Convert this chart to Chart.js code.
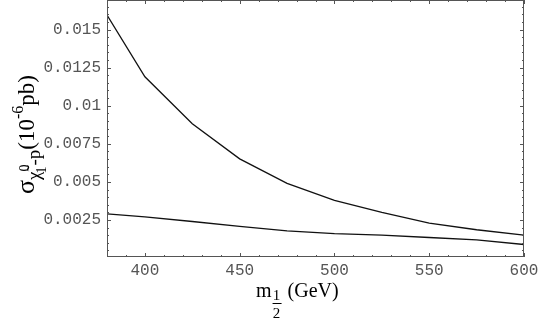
<!DOCTYPE html>
<html>
<head>
<meta charset="utf-8">
<script src="https://cdn.jsdelivr.net/npm/chart.js@4"></script>
<style>
  html, body { margin: 0; padding: 0; background: #fff; }
  #wrap { width: 545px; height: 325px; }
</style>
</head>
<body>
<div id="wrap"><canvas id="xsecChart"></canvas></div>
<script>
// m_1/2 values (GeV)
const mHalf = [380, 400, 425, 450, 475, 500, 525, 550, 575, 600];
// cross sections (10^-6 pb)
const upperCurve = [0.01595, 0.0119, 0.00882, 0.00651, 0.0049, 0.00378, 0.0030, 0.0023, 0.00186, 0.00151];
const lowerCurve = [0.0029, 0.0027, 0.0024, 0.00208, 0.00179, 0.0016, 0.00151, 0.00135, 0.0012, 0.00089];
const xTickValues = [400, 450, 500, 550, 600];
const yTickValues = [0.0025, 0.005, 0.0075, 0.01, 0.0125, 0.015];
const yTickLabels = ['0.0025', '0.005', '0.0075', '0.01', '0.0125', '0.015'];

const frameColor = '#555';
const tickFont = { family: '"Liberation Mono", monospace', size: 16 };

// frame ticks pointing inwards on all four sides
const frameTicks = {
    id: 'frameTicks',
    afterDraw(chart) {
        const { ctx, chartArea: a, scales: { x, y } } = chart;
        ctx.save();
        ctx.strokeStyle = frameColor;
        ctx.lineWidth = 1;
        ctx.beginPath();
        for (let v = 380; v <= 600; v += 10) {
            const px = Math.round(x.getPixelForValue(v)) + 0.5;
            const len = v % 50 === 0 ? 4 : 2;
            ctx.moveTo(px, a.bottom); ctx.lineTo(px, a.bottom - len);
            ctx.moveTo(px, a.top); ctx.lineTo(px, a.top + len);
        }
        for (let i = 0; i <= 33; i++) {
            const v = i * 0.0005;
            const py = Math.round(y.getPixelForValue(v)) + 0.5;
            if (py < a.top || py > a.bottom) continue;
            const len = i % 5 === 0 ? 4 : 2;
            ctx.moveTo(a.left, py); ctx.lineTo(a.left + len, py);
            ctx.moveTo(a.right, py); ctx.lineTo(a.right - len, py);
        }
        ctx.stroke();
        ctx.strokeRect(a.left + 0.5, a.top + 0.5, a.right - a.left - 1, a.bottom - a.top - 1);
        ctx.restore();
    }
};

// axis titles with sub/superscripts
const axisTitles = {
    id: 'axisTitles',
    afterDraw(chart) {
        const { ctx } = chart;
        const serif = s => `${s}px "Liberation Serif", "DejaVu Serif", serif`;
        ctx.save();
        ctx.fillStyle = '#000';
        ctx.textBaseline = 'alphabetic';
        ctx.textAlign = 'left';

        // x title: m_{1/2} (GeV)
        let xp = 256, base = 297;
        ctx.font = serif(20);
        ctx.fillText('m', xp, base);
        xp += ctx.measureText('m').width + 1;
        ctx.font = serif(15);
        ctx.textAlign = 'center';
        ctx.fillText('1', xp + 4, base + 3);
        ctx.fillText('2', xp + 4, base + 21);
        ctx.fillRect(xp, base + 6, 9, 1);
        ctx.textAlign = 'left';
        ctx.font = serif(20);
        ctx.fillText('(GeV)', xp + 15, base);

        // y title: sigma_{chi~0_1 - p}(10^-6 pb), rotated
        ctx.translate(34, 194);
        ctx.rotate(-Math.PI / 2);
        let p = 0;
        ctx.font = serif(26);
        ctx.fillText('σ', p, 0);
        p += ctx.measureText('σ').width;
        ctx.font = serif(19);
        ctx.fillText('χ̃', p, 6);
        const chiW = ctx.measureText('χ').width;
        ctx.font = serif(14);
        ctx.fillText('0', p + chiW, -5);
        ctx.fillText('1', p + chiW - 2, 12);
        p += chiW + 6;
        ctx.font = serif(19);
        ctx.fillText('-p', p, 6);
        p += ctx.measureText('-p').width;
        ctx.font = serif(23);
        ctx.fillText('(10', p, 0);
        p += ctx.measureText('(10').width;
        ctx.font = serif(16);
        ctx.fillText('-6', p, -11);
        p += ctx.measureText('-6').width;
        ctx.font = serif(23);
        ctx.fillText('pb)', p, 0);
        ctx.restore();
    }
};

const ctx = document.getElementById('xsecChart').getContext('2d');
const xsecChart = new Chart(ctx, {
    type: 'line',
    data: {
        datasets: [
            {
                data: mHalf.map((m, i) => ({ x: m, y: upperCurve[i] })),
                borderColor: '#111',
                borderWidth: 1.3,
                pointRadius: 0,
                tension: 0,
                fill: false
            },
            {
                data: mHalf.map((m, i) => ({ x: m, y: lowerCurve[i] })),
                borderColor: '#111',
                borderWidth: 1.3,
                pointRadius: 0,
                tension: 0,
                fill: false
            }
        ]
    },
    options: {
        responsive: true,
        maintainAspectRatio: false,
        animation: false,
        layout: { padding: { top: 0, right: 21, left: 0, bottom: 0 } },
        scales: {
            x: {
                type: 'linear',
                min: 380,
                max: 600,
                afterBuildTicks: s => { s.ticks = xTickValues.map(v => ({ value: v })); },
                afterFit: s => { s.height = 68; s.paddingLeft = 0; s.paddingRight = 0; },
                grid: { display: false, drawTicks: false },
                border: { display: false },
                ticks: {
                    font: tickFont,
                    color: '#555',
                    padding: 4,
                    maxRotation: 0,
                    callback: v => String(v)
                }
            },
            y: {
                type: 'linear',
                min: 0.00007,
                max: 0.01694,
                afterBuildTicks: s => { s.ticks = yTickValues.map(v => ({ value: v })); },
                afterFit: s => { s.width = 107; s.paddingTop = 0; s.paddingBottom = 0; },
                grid: { display: false, drawTicks: false },
                border: { display: false },
                ticks: {
                    font: tickFont,
                    color: '#555',
                    padding: 6,
                    callback: v => yTickLabels[yTickValues.indexOf(v)] ?? ''
                }
            }
        },
        plugins: {
            legend: { display: false },
            tooltip: { enabled: false }
        }
    },
    plugins: [frameTicks, axisTitles]
});
</script>
</body>
</html>
